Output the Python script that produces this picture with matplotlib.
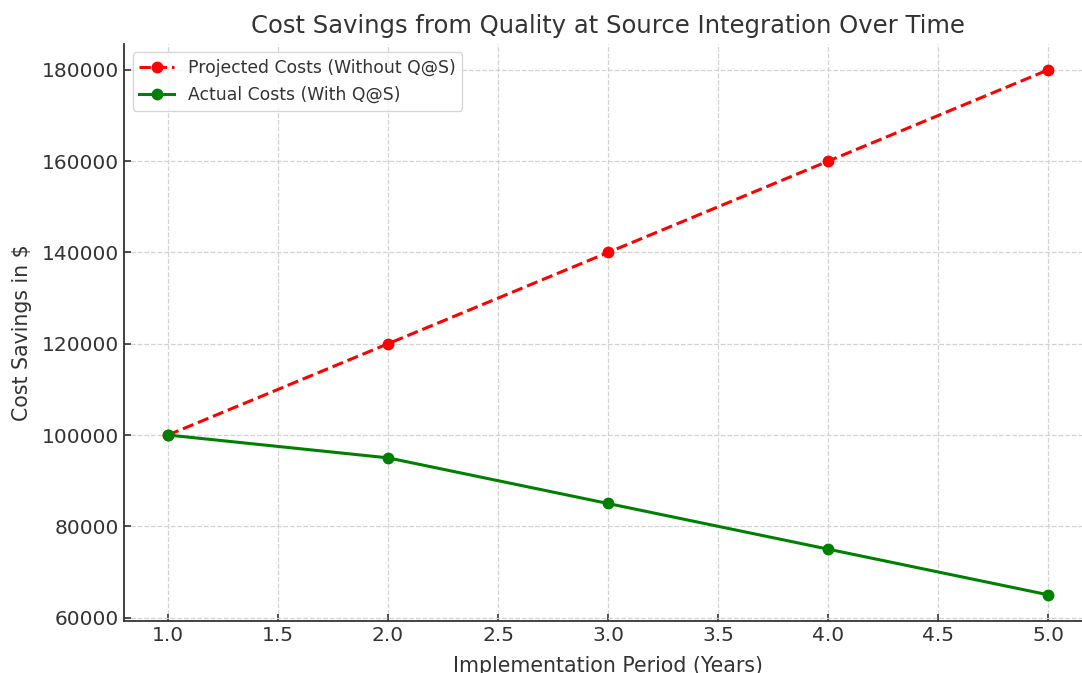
import matplotlib
matplotlib.use("Agg")
import matplotlib.pyplot as plt

years = [1, 2, 3, 4, 5]
projected_costs = [100000, 120000, 140000, 160000, 180000]
actual_costs = [100000, 95000, 85000, 75000, 65000]
yticks = [60000, 80000, 100000, 120000, 140000, 160000, 180000]
xticks = [1.0, 1.5, 2.0, 2.5, 3.0, 3.5, 4.0, 4.5, 5.0]

TXT = "#333333"
plt.rcParams["font.family"] = "DejaVu Sans"

fig = plt.figure(figsize=(10.82, 6.73), dpi=100)
ax = fig.add_axes([124/1082, (673-621)/673, (1092-124)/1082, (621-43.7)/673])

ax.plot(years, projected_costs, color="red", linestyle="--", marker="o",
        linewidth=2.2, markersize=7.5, label="Projected Costs (Without Q@S)")
ax.plot(years, actual_costs, color="green", linestyle="-", marker="o",
        linewidth=2.2, markersize=7.5, label="Actual Costs (With Q@S)")

ax.set_xticks(xticks)
ax.set_xticklabels([f"{t:.1f}" for t in xticks])
ax.set_yticks(yticks)
ax.set_yticklabels([str(t) for t in yticks])

ax.grid(True, linestyle="--", color="#d2d2d2", linewidth=0.9)
for s in ["top", "right"]:
    ax.spines[s].set_visible(False)
for s in ["left", "bottom"]:
    ax.spines[s].set_color(TXT)
    ax.spines[s].set_linewidth(1.3)
ax.tick_params(direction="in", length=5, width=1.2, colors=TXT, labelsize=14.5, labelcolor=TXT)

ax.set_title("Cost Savings from Quality at Source Integration Over Time", fontsize=17.5, color=TXT, pad=8)
ax.set_xlabel("Implementation Period (Years)", fontsize=14.8, color=TXT, labelpad=8)
ax.set_ylabel("Cost Savings in $", fontsize=14.8, color=TXT, labelpad=7)

leg = ax.legend(loc="upper left", fontsize=12.4, frameon=True, labelcolor=TXT)
leg.get_frame().set_edgecolor("#cccccc")

fig.savefig("out.png", dpi=100)
